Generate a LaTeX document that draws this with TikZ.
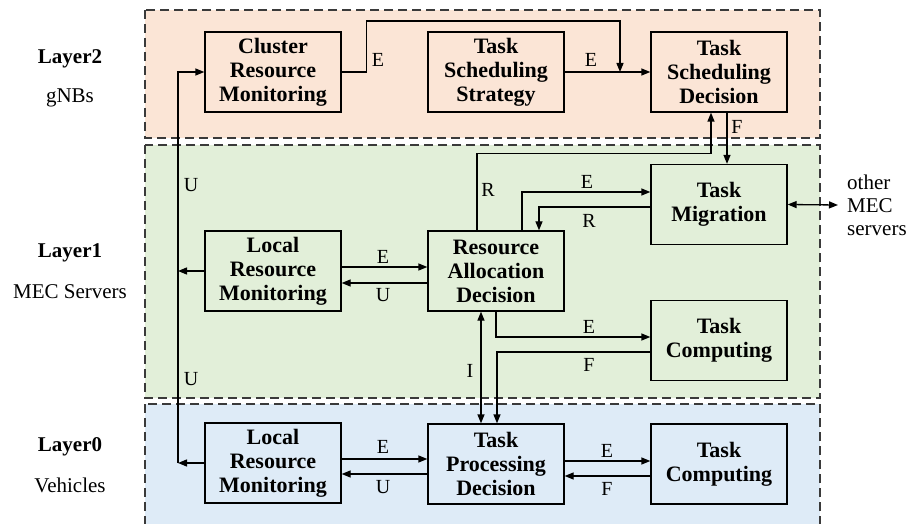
\documentclass[tikz,border=0pt]{standalone}
\usepackage{fontspec}
\setmainfont{Liberation Serif}
\usetikzlibrary{arrows.meta}
\definecolor{peach}{HTML}{FBE5D6}
\definecolor{lgreen}{HTML}{E2EFD9}
\definecolor{lblue}{HTML}{DEEBF7}
\definecolor{dashgray}{HTML}{3A3A3A}
\tikzset{
  layerbox/.style={draw=dashgray, line width=1.8pt, dash pattern=on 9pt off 5pt},
  blk/.style={draw=black, line width=1.3pt, minimum width=136pt, minimum height=80pt,
    align=center, inner sep=0pt, font=\bfseries\fontsize{22}{24}\selectfont},
  arr/.style={line width=1.3pt, -{Triangle[length=9pt,width=7pt]}},
  dbl/.style={line width=1.3pt, {Triangle[length=9pt,width=7pt]}-{Triangle[length=9pt,width=7pt]}},
  lbl/.style={font=\fontsize{20}{22}\selectfont, inner sep=0pt},
  side/.style={font=\fontsize{21}{23}\selectfont, inner sep=0pt},
  sideb/.style={font=\bfseries\fontsize{21}{23}\selectfont, inner sep=0pt},
}
\begin{document}
\begin{tikzpicture}[x=1pt,y=-1pt]
\clip (0,0) rectangle (914,524);
% layers
\fill[peach] (145,10) rectangle (820,138);
\fill[lgreen] (145,145) rectangle (820,398);
\fill[lblue] (145,404) rectangle (820,540);
\draw[layerbox] (145,10) rectangle (820,138);
\draw[layerbox] (145,145) rectangle (820,398);
\draw[layerbox] (145,404) rectangle (820,540);
% side labels
\node[sideb] (l2) at (70,59) {Layer2};
\node[side] (l2s) at (70,98) {gNBs};
\node[sideb] (l1) at (70,253) {Layer1};
\node[side] (l1s) at (70,292) {MEC Servers};
\node[sideb] (l0) at (70,447) {Layer0};
\node[side] (l0s) at (70,485) {Vehicles};
% blocks
\node[blk] (clu) at (273,72) {Cluster\\Resource\\Monitoring};
\node[blk] (tss) at (496,72) {Task\\Scheduling\\Strategy};
\node[blk] (tsd) at (719,72) {Task\\Scheduling\\Decision};
\node[blk] (lrm1) at (273,271) {Local\\Resource\\Monitoring};
\node[blk] (rad) at (496,271) {Resource\\Allocation\\Decision};
\node[blk] (tmig) at (719,204.5) {Task\\Migration};
\node[blk] (tc1) at (719,340.5) {Task\\Computing};
\node[blk] (lrm0) at (273,463) {Local\\Resource\\Monitoring};
\node[blk] (tpd) at (496,464) {Task\\Processing\\Decision};
\node[blk] (tc0) at (719,464) {Task\\Computing};
\node[side, anchor=west, align=left, inner xsep=9pt] (other) at (838,205) {other\\MEC\\servers};
% coordinates
\coordinate (busx) at (178,0);
\coordinate (join) at (620,72);
% left bus
\draw[arr] (lrm0.west) -- (lrm0.west -| busx);
\draw[arr] (lrm0.west -| busx) |- (clu.west);
\draw[arr] (lrm1.west) -- (lrm1.west -| busx);
% layer 2
\draw[arr] (clu.east) -- ++(25,0) |- ([yshift=51pt]join) -- (join);
\draw[arr] (tss.east) -- (tsd.west);
\draw[arr] ([xshift=-19pt]rad.north) |- ([xshift=-8pt,yshift=-41pt]tsd.south) -- ([xshift=-8pt]tsd.south);
\draw[arr] ([xshift=8pt]tsd.south) -- ([xshift=8pt]tsd.south |- tmig.north);
% layer 1
\draw[arr] ([xshift=26pt]rad.north) |- ([yshift=12.5pt]tmig.west);
\draw[arr] ([yshift=-2.5pt]tmig.west) -| ([xshift=43pt]rad.north);
\draw[dbl] (tmig.east) -- (other.west);
\draw[arr] ([yshift=4pt]lrm1.east) -- ([yshift=4pt]lrm1.east -| rad.west);
\draw[arr] ([yshift=-12pt]lrm1.east -| rad.west) -- ([yshift=-12pt]lrm1.east);
\draw[arr] (rad.south) |- ([yshift=3.5pt]tc1.west);
\draw[arr] ([yshift=-11.5pt]tc1.west) -| ([xshift=1pt]tpd.north);
\draw[dbl] ([xshift=-15pt]rad.south) -- ([xshift=-15pt]tpd.north);
% layer 0
\draw[arr] ([yshift=4pt]lrm0.east) -- ([yshift=4pt]lrm0.east -| tpd.west);
\draw[arr] ([yshift=-11pt]lrm0.east -| tpd.west) -- ([yshift=-11pt]lrm0.east);
\draw[arr] ([yshift=3pt]tpd.east) -- ([yshift=3pt]tpd.east -| tc0.west);
\draw[arr] ([yshift=-12pt]tpd.east -| tc0.west) -- ([yshift=-12pt]tpd.east);
% labels
\node[lbl] (e1) at (378,60) {E};
\node[lbl] (e2) at (591,60) {E};
\node[lbl] (f1) at (737,127) {F};
\node[lbl] (r1) at (488,190) {R};
\node[lbl] (e3) at (587,182) {E};
\node[lbl] (r2) at (589,221) {R};
\node[lbl] (e4) at (589,327) {E};
\node[lbl] (f2) at (589,365) {F};
\node[lbl] (i1) at (470,371) {I};
\node[lbl] (u1) at (191,185) {U};
\node[lbl] (u2) at (191,379) {U};
\node[lbl] (e5) at (383,257) {E};
\node[lbl] (u3) at (383,295) {U};
\node[lbl] (e6) at (383,447) {E};
\node[lbl] (u4) at (383,487) {U};
\node[lbl] (e7) at (607,451) {E};
\node[lbl] (f3) at (607,489) {F};
\end{tikzpicture}
\end{document}
